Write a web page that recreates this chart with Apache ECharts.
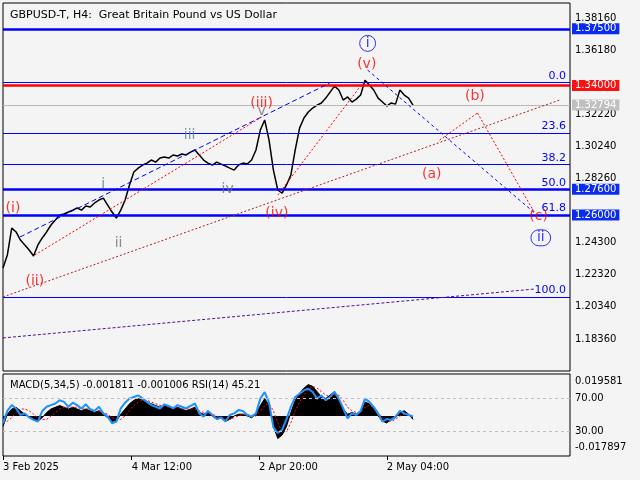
<!DOCTYPE html>
<html><head><meta charset="utf-8">
<script src="https://cdn.jsdelivr.net/npm/echarts@6/dist/echarts.min.js"></script>
<style>html,body{margin:0;padding:0;background:#f4f4f4}#c{width:640px;height:480px}</style>
</head><body><div id="c"></div>
<script>
// days since 3 Feb 2025 (one point per day)
const closes = [1.2273,1.2354,1.2520,1.2496,1.2446,1.2416,1.2385,1.2348,1.2416,1.2459,
1.2496,1.2539,1.2570,1.2601,1.2607,1.2619,1.2631,1.2644,1.2631,1.2656,
1.2650,1.2675,1.2693,1.2705,1.2662,1.2619,1.2582,1.2631,1.2693,1.2786,
1.2866,1.2890,1.2909,1.2921,1.2940,1.2927,1.2952,1.2958,1.2952,1.2971,
1.2965,1.2977,1.2971,1.2989,1.3002,1.2971,1.2940,1.2921,1.2909,1.2927,
1.2915,1.2903,1.2890,1.2878,1.2909,1.2921,1.2915,1.2940,1.3002,1.3125,
1.3187,1.3063,1.2878,1.2755,1.2736,1.2786,1.2847,1.3002,1.3137,1.3199,
1.3236,1.3261,1.3279,1.3292,1.3322,1.3359,1.3396,1.3372,1.3310,1.3329,
1.3298,1.3316,1.3341,1.3433,1.3403,1.3372,1.3322,1.3298,1.3273,1.3292,
1.3285,1.3372,1.3341,1.3322,1.3279];
const rsi = [40,55,62,58,50,52,47,44,42,55,60,62,64,68,66,60,65,62,58,63,57,55,60,52,48,40,42,58,65,70,72,74,70,66,62,60,58,63,61,58,62,60,58,61,64,52,48,55,50,45,47,42,50,52,56,55,50,48,52,70,78,65,35,28,32,45,60,72,76,80,82,78,70,74,68,72,78,70,58,46,52,50,55,70,66,60,52,42,45,44,48,55,52,50,48];
const macdMilli = [-6,1,4,5,3,1,-1,-2,-3,-1, 2,4,5,6,5,4,5,4,3,4, 3,2,3,1,-1,-3,-3,1,4,7, 9,10,9,8,7,6,5,6,5,4, 5,4,3,4,5,2,1,2,0,-2, -1,-3,-2,0,1,1,0,-1,1,6, 10,6,-6,-13,-11,-6,2,9,13,16, 18,17,14,11,10,12,14,10,4,1, 2,1,3,8,7,4,0,-3,-4,-2, -1,2,3,1,-2];
const signalMilli = [-4,-3,-1,2,4,4,3,1,-1,-2, -2,0,2,4,5,5,5,5,4,4, 4,3,3,2,1,-1,-2,-2,0,3, 6,8,9,9,8,7,6,6,5,5, 5,4,4,4,4,3,2,2,1,0, -1,-2,-2,-1,0,1,1,0,0,3, 6,7,3,-4,-9,-9,-4,3,8,12, 15,17,16,14,12,11,12,12,9,5, 3,2,2,5,6,5,2,-1,-3,-3, -2,0,1,1,0];
const priceTicks = [1.3816,1.3618,1.3222,1.3024,1.2826,1.2430,1.2232,1.2034,1.1836];
const dateTicks = [0,29.5,58.7,88];
const dateLabels = ['3 Feb 2025','4 Mar 12:00','2 Apr 20:00','2 May 04:00'];
const fibHigh = 1.3420, fibLow = 1.2095;
const fibLevels = [0,23.6,38.2,50,61.8,100];
const blueLevels = [1.3750,1.2760,1.2600];
const redLevel = 1.3400, lastPrice = 1.32794;
const trendLines = [
 {pts:[[3.9,1.2465],[74.9,1.3415]],color:'#0000ff',type:[5,3]},
 {pts:[[7.3,1.2354],[59.3,1.3205]],color:'#ff0000',type:[2,2]},
 {pts:[[63,1.2724],[83,1.3433]],color:'#ff0000',type:[2,2]},
 {pts:[[0,1.2095],[127.6,1.3310]],color:'#b02020',type:[2,2]},
 {pts:[[0,1.1842],[121.9,1.2144]],color:'#501090',type:[3,2]},
 {pts:[[83.6,1.3495],[121.9,1.2613]],color:'#0000ff',type:[3,3]},
 {pts:[[100.1,1.3063],[108.8,1.3230]],color:'#ff0000',type:[2,2]},
 {pts:[[108.8,1.3230],[121.9,1.2613]],color:'#ff0000',type:[2,2]}
];
const waveLabels = [
 [2.3,1.2640,'(i)','#ff0000',0],[7.3,1.2190,'(ii)','#ff0000',0],[59.3,1.3290,'(iii)','#ff0000',0],
 [62.8,1.2610,'(iv)','#ff0000',0],[83.4,1.3530,'(v)','#ff0000',0],[98.3,1.2850,'(a)','#ff0000',0],
 [108.2,1.3335,'(b)','#ff0000',0],[122.8,1.2590,'(c)','#ff0000',0],
 [23,1.2790,'i','#5a7f8f',0],[26.5,1.2425,'ii','#707070',0],[42.8,1.3090,'iii','#5a7f8f',0],
 [51.5,1.2760,'iv','#707070',0],[59.3,1.3240,'v','#707070',0],
 [83.6,1.3660,'i','#0000ff',1],[123.3,1.2460,'ii','#0000ff',1]
];
const base = {fontFamily:'DejaVu Sans',fontSize:10};
const boxLabel = (txt,bg,fg)=>({show:true,position:'end',distance:2,formatter:txt,
  backgroundColor:bg,color:fg,padding:[1,3,0,3],fontFamily:'DejaVu Sans',fontSize:10});
const markLines = [];
blueLevels.forEach(v=>markLines.push({yAxis:v,lineStyle:{color:'#0000ff',width:2.5,type:'solid'},label:boxLabel(v.toFixed(5),'#0a2cf0','#fff')}));
markLines.push({yAxis:redLevel,lineStyle:{color:'#ff0000',width:2.5,type:'solid'},label:boxLabel(redLevel.toFixed(5),'#ff1010','#fff')});
markLines.push({yAxis:lastPrice,lineStyle:{color:'#b8b8b8',width:1,type:'solid'},label:boxLabel(lastPrice.toFixed(5),'#c0c0c0','#fff')});
fibLevels.forEach(f=>markLines.push({yAxis:fibHigh-(fibHigh-fibLow)*f/100,lineStyle:{color:'#0000ff',width:1,type:'solid'},
  label:{show:true,position:'insideEndTop',distance:[4,1],formatter:f.toFixed(1),color:'#0000ff',fontFamily:'DejaVu Sans',fontSize:11}}));
trendLines.forEach(t=>markLines.push([{coord:t.pts[0],lineStyle:{color:t.color,width:1,type:t.type}},{coord:t.pts[1]}]));

const opt = {
 animation:false, backgroundColor:'#f4f4f4',
 textStyle:base,
 title:[{text:'GBPUSD-T, H4:  Great Britain Pound vs US Dollar',left:5,top:5,textStyle:{fontSize:11,fontWeight:'normal',color:'#000',fontFamily:'DejaVu Sans'}},
  {text:'MACD(5,34,5) -0.001811 -0.001006 RSI(14) 45.21',left:5,top:375,textStyle:{fontSize:10,fontWeight:'normal',color:'#000',fontFamily:'DejaVu Sans'}}],
 grid:[{left:3,right:70,top:3,height:368,show:true,borderColor:'#000',borderWidth:1,backgroundColor:'#f4f4f4'},
       {left:3,right:70,top:374,height:82,show:true,borderColor:'#000',borderWidth:1,backgroundColor:'#f4f4f4'}],
 xAxis:[{type:'value',gridIndex:0,min:0,max:130,show:false},
   {type:'value',gridIndex:1,min:0,max:130,axisLine:{show:false},splitLine:{show:false},
    axisTick:{show:true,customValues:dateTicks,length:4,lineStyle:{color:'#000'}},
    axisLabel:{customValues:dateTicks,formatter:v=>dateLabels[dateTicks.indexOf(v)]||'',color:'#000',align:'left',margin:6,fontSize:10,fontFamily:'DejaVu Sans'}}],
 yAxis:[{type:'value',gridIndex:0,position:'right',min:1.1638,max:1.3909,splitLine:{show:false},axisLine:{show:false},
    axisTick:{show:false},
    axisLabel:{customValues:priceTicks,formatter:v=>v.toFixed(5),color:'#000',margin:5,fontSize:10,fontFamily:'DejaVu Sans'}},
   {type:'value',gridIndex:1,position:'right',min:0,max:100,splitLine:{show:false},axisLine:{show:false},
    axisTick:{show:false},
    axisLabel:{customValues:[70,30],formatter:v=>v.toFixed(2),color:'#000',margin:5,fontSize:10,fontFamily:'DejaVu Sans'}},
   {type:'value',gridIndex:1,position:'right',min:-0.0230,max:0.0241,splitLine:{show:false},axisLine:{show:false},
    axisTick:{show:false},
    axisLabel:{customValues:[0.019581,-0.017897],formatter:v=>v.toFixed(6),color:'#000',margin:5,fontSize:10,fontFamily:'DejaVu Sans'}}],
 series:[
  {type:'line',xAxisIndex:0,yAxisIndex:0,data:closes.map((c,i)=>[i,c]),symbol:'none',lineStyle:{color:'#000',width:1.5},
   markLine:{silent:true,symbol:'none',precision:6,data:markLines},z:3},
  {type:'scatter',xAxisIndex:0,yAxisIndex:0,symbolSize:0,z:5,data:waveLabels.map(w=>({value:[w[0],w[1]],
    label:{show:true,position:'inside',formatter:w[2],color:w[3],fontSize:14,fontFamily:'DejaVu Sans',
     borderColor:w[4]?'#0000ff':'transparent',borderWidth:w[4]?1:0,borderRadius:9,padding:w[4]?[1,6,1,6]:0}}))},
  {type:'line',xAxisIndex:1,yAxisIndex:2,data:macdMilli.map((v,i)=>[i,v/1000]),symbol:'none',
   lineStyle:{color:'#000',width:1},areaStyle:{color:'#000',opacity:1,origin:0}},
  {type:'line',xAxisIndex:1,yAxisIndex:2,data:signalMilli.map((v,i)=>[i,v/1000]),symbol:'none',
   lineStyle:{color:'#ff0000',width:1,type:[2,2]}},
  {type:'line',xAxisIndex:1,yAxisIndex:1,data:rsi.map((v,i)=>[i,v]),symbol:'none',lineStyle:{color:'#1e90ff',width:2},
   markLine:{silent:true,symbol:'none',label:{show:false},lineStyle:{color:'#c0c0c0',type:[3,3],width:1},data:[{yAxis:70},{yAxis:30}]}}
 ]
};
echarts.init(document.getElementById('c')).setOption(opt);
</script></body></html>
